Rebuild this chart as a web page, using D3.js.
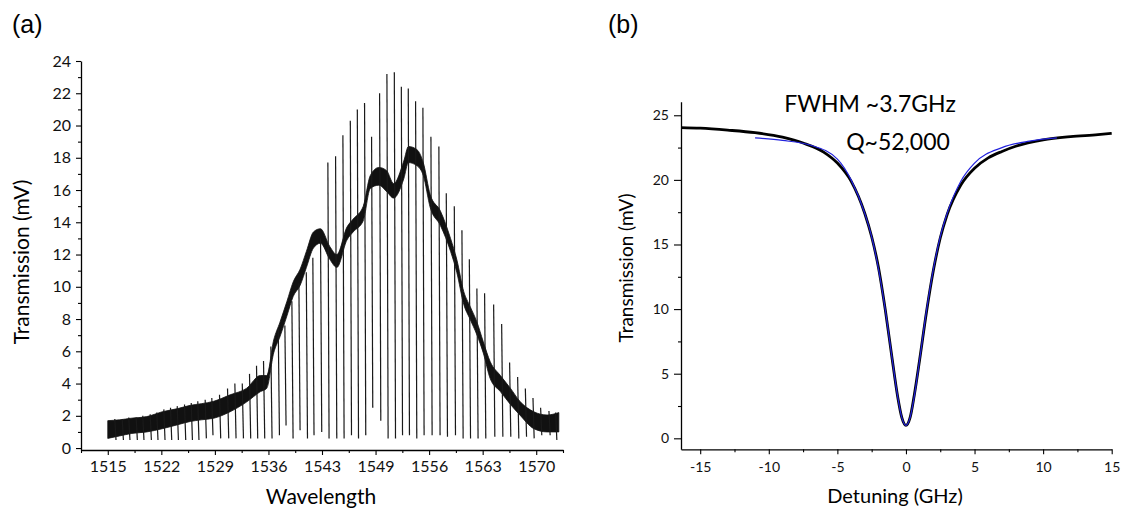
<!DOCTYPE html>
<html>
<head>
<meta charset="utf-8">
<script src="https://cdn.jsdelivr.net/npm/d3@7"></script>
<style>
  body { margin: 0; background: #fff; }
  svg { display: block; }
  .tick text { font-family: Lato, "Open Sans", sans-serif; fill: #111; }
</style>
</head>
<body>
<svg id="chart" width="1125" height="515"></svg>
<script>
// ---------- panel (a): transmission spectrum ----------
// noise band of the trace between resonances (wavelength, low, high)
const bandWl   = [1515.0, 1516.5, 1518.0, 1520.0, 1522.0, 1524.0, 1525.6, 1527.0, 1528.6, 1530.7, 1532.8, 1534.6, 1535.4, 1536.3, 1537.1, 1538.0, 1538.8, 1539.7, 1540.5, 1541.4, 1542.3, 1543.5, 1544.4, 1545.7, 1546.5, 1547.8, 1548.7, 1549.8, 1550.8, 1551.7, 1553.0, 1553.6, 1554.7, 1555.5, 1556.4, 1557.7, 1559.0, 1559.8, 1560.7, 1561.5, 1562.4, 1563.2, 1564.1, 1565.4, 1566.7, 1567.9, 1569.7, 1571.4, 1572.9];
const bandLow  = [0.6, 0.75, 0.9, 1.0, 1.2, 1.45, 1.65, 1.75, 1.85, 2.25, 2.85, 3.5, 3.7, 5.9, 6.9, 8.2, 9.4, 10.1, 11.2, 12.4, 12.7, 11.7, 11.2, 12.9, 13.4, 14.1, 16.1, 16.3, 15.9, 15.5, 16.7, 17.7, 17.5, 16.9, 14.9, 13.8, 12.2, 10.9, 8.9, 8.0, 7.0, 5.9, 4.3, 3.5, 2.7, 2.05, 1.2, 1.0, 1.0];
const bandHigh = [1.7, 1.75, 1.85, 1.95, 2.25, 2.45, 2.65, 2.75, 2.9, 3.3, 3.7, 4.5, 4.5, 6.7, 7.8, 9.1, 10.3, 11.1, 12.2, 13.4, 13.6, 12.5, 12.0, 13.7, 14.2, 15.0, 16.9, 17.4, 17.2, 16.4, 17.8, 18.7, 18.5, 17.7, 15.7, 14.7, 13.0, 11.7, 9.7, 8.8, 7.8, 6.6, 5.35, 4.5, 3.7, 2.9, 2.25, 2.05, 2.2];

// resonances: position, dip minimum, peak maximum (mV)
const resWl = [1515.98, 1516.93, 1517.77, 1518.72, 1519.57, 1520.52, 1521.37, 1522.27, 1523.13, 1523.99,
               1524.93, 1525.79, 1526.63, 1527.58, 1528.43, 1529.42, 1530.45, 1531.39, 1532.34, 1533.27,
               1534.17, 1535.07, 1536.01, 1536.96, 1537.81, 1538.71, 1539.61, 1540.56, 1541.40, 1542.39,
               1543.33, 1544.32, 1545.26, 1546.21, 1547.11, 1548.04, 1548.94, 1549.97, 1550.91, 1551.86,
               1552.76, 1553.65, 1554.59, 1555.53, 1556.56, 1557.58, 1558.53, 1559.56, 1560.54, 1561.49,
               1562.46, 1563.45, 1564.61, 1565.64, 1566.66, 1567.69, 1568.68, 1569.66, 1570.64, 1571.71, 1572.57];
const resDip = [0.5, 0.5, 0.5, 0.5, 0.5, 0.5, 0.5, 0.5, 0.5, 0.5,
                0.5, 0.5, 0.5, 0.6, 0.8, 0.6, 0.6, 0.6, 0.6, 0.6,
                0.6, 0.6, 0.6, 0.8, 1.4, 0.6, 1.1, 0.6, 0.8, 1.0,
                0.6, 0.6, 0.6, 0.8, 0.6, 0.8, 2.5, 1.7, 0.6, 0.6,
                0.8, 0.8, 0.6, 0.8, 0.8, 0.8, 0.7, 0.8, 0.6, 0.6,
                0.6, 0.6, 0.7, 0.7, 0.7, 0.6, 0.7, 0.6, 0.8, 0.8, 0.5];
const resPeak = [1.8, 1.8, 1.9, 1.9, 2.0, 2.1, 2.2, 2.4, 2.5, 2.6,
                 2.7, 2.8, 2.9, 3.0, 3.1, 3.3, 3.7, 4.0, 4.0, 4.6,
                 5.1, 5.4, 6.3, 7.4, 7.6, 9.1, 10.2, 10.9, 11.8, 13.0,
                 17.7, 18.1, 19.4, 20.3, 21.0, 21.4, 19.3, 22.0, 23.2, 23.3,
                 22.4, 22.3, 21.5, 21.1, 19.3, 18.7, 15.8, 15.0, 13.5, 11.7,
                 9.9, 9.6, 8.9, 7.7, 5.3, 4.4, 3.7, 3.1, 2.5, 2.3, 2.2];

const xTicksA      = [1515, 1521.875, 1528.75, 1535.625, 1542.5, 1549.375, 1556.25, 1563.125, 1570];
const xTickLabelsA = ["1515", "1522", "1529", "1536", "1543", "1549", "1556", "1563", "1570"];
const yTicksA      = [0, 2, 4, 6, 8, 10, 12, 14, 16, 18, 20, 22, 24];

// ---------- panel (b): single resonance ----------
const detData = [-16.4, -15, -13, -11, -9, -7.5, -6, -5, -4, -3, -2.5, -2, -1.5, -1, -0.6, -0.3, 0, 0.3, 0.6, 1, 1.5, 2, 2.5, 3, 4, 5, 6, 7, 8, 10, 12, 14, 15];
const trData  = [24.05, 24.0, 23.85, 23.65, 23.3, 22.85, 22.15, 21.3, 19.9, 17.4, 15.6, 13.2, 9.9, 6.1, 3.2, 1.6, 1.0, 1.6, 3.3, 6.1, 9.8, 13.0, 15.5, 17.3, 19.6, 20.9, 21.7, 22.2, 22.6, 23.1, 23.35, 23.5, 23.6];
const detFit  = [-11, -9, -7, -5, -4, -3, -2.5, -2, -1.5, -1, -0.6, -0.3, 0, 0.3, 0.6, 1, 1.5, 2, 2.5, 3, 4, 5, 7, 9, 11];
const trFit   = [23.25, 23.05, 22.7, 21.6, 20.0, 17.4, 15.6, 13.1, 9.9, 6.1, 3.2, 1.6, 1.0, 1.6, 3.2, 6.1, 9.9, 13.1, 15.6, 17.4, 19.9, 21.3, 22.5, 23.0, 23.25];

const xTicksB = [-15, -10, -5, 0, 5, 10, 15];
const yTicksB = [0, 5, 10, 15, 20, 25];

const svg = d3.select('#chart');
const labelFont = 'Lato, "Open Sans", sans-serif';

// ---------------- panel (a) ----------------
const xA = d3.scaleLinear().domain([1511.5625, 1573.4375]).range([81, 563]);
const yA = d3.scaleLinear().domain([-0.12, 24]).range([450, 61]);

const gA = svg.append('g');

const band = bandWl.map((w, i) => ({ w, lo: bandLow[i], hi: bandHigh[i] }));
gA.append('path')
  .datum(band)
  .attr('fill', '#111')
  .attr('stroke', '#111')
  .attr('stroke-width', 0.8)
  .attr('d', d3.area().x(d => xA(d.w)).y0(d => yA(d.lo)).y1(d => yA(d.hi)).curve(d3.curveMonotoneX));

const res = resWl.map((w, i) => ({ w, dip: resDip[i], peak: resPeak[i] }));
gA.selectAll('line.res')
  .data(res)
  .join('line')
  .attr('class', 'res')
  .attr('x1', d => xA(d.w) - 0.6)
  .attr('x2', d => xA(d.w) + 0.6)
  .attr('y1', d => yA(d.peak))
  .attr('y2', d => yA(d.dip))
  .attr('stroke', '#1a1a1a')
  .attr('stroke-width', 1.2);

// axes (a)
const axA = gA.append('g').attr('transform', `translate(0,${yA.range()[0]})`)
  .call(d3.axisBottom(xA).tickValues(xTicksA).tickFormat((d, i) => xTickLabelsA[i]).tickSize(5).tickSizeOuter(0).tickPadding(6));
gA.append('g').attr('transform', `translate(0,${yA.range()[0]})`)
  .call(d3.axisBottom(xA).tickValues(xTicksA.map(t => t + 3.4375).concat([xTicksA[0] - 3.4375])).tickFormat('').tickSize(3).tickSizeOuter(0))
  .select('.domain').remove();
const ayA = gA.append('g').attr('transform', `translate(${xA.range()[0]},0)`)
  .call(d3.axisLeft(yA).tickValues(yTicksA).tickSize(5).tickSizeOuter(0).tickPadding(5));
gA.append('g').attr('transform', `translate(${xA.range()[0]},0)`)
  .call(d3.axisLeft(yA).tickValues(yTicksA.slice(0, -1).map(t => t + 1)).tickFormat('').tickSize(3).tickSizeOuter(0))
  .select('.domain').remove();
[axA, ayA].forEach(a => a.selectAll('text').attr('font-size', 16));

// ---------------- panel (b) ----------------
const xB = d3.scaleLinear().domain([-16.4, 15]).range([681, 1111.7]);
const yB = d3.scaleLinear().domain([-0.85, 26.05]).range([449.3, 101.7]);
const gB = svg.append('g');

const lineB = d3.line().x(d => xB(d[0])).y(d => yB(d[1])).curve(d3.curveMonotoneX);
gB.append('path')
  .datum(detData.map((d, i) => [d, trData[i]]))
  .attr('fill', 'none').attr('stroke', '#000').attr('stroke-width', 2.8)
  .attr('d', lineB);
gB.append('path')
  .datum(detFit.map((d, i) => [d, trFit[i]]))
  .attr('fill', 'none').attr('stroke', '#2222dd').attr('stroke-width', 1.2)
  .attr('d', lineB);

const hyphen = d => String(d).replace('\u2212', '-');
const axB = gB.append('g').attr('transform', `translate(0,${yB.range()[0]})`)
  .call(d3.axisBottom(xB).tickValues(xTicksB).tickFormat(hyphen).tickSize(5).tickSizeOuter(0).tickPadding(8));
gB.append('g').attr('transform', `translate(0,${yB.range()[0]})`)
  .call(d3.axisBottom(xB).tickValues(xTicksB.slice(0, -1).map(t => t + 2.5)).tickFormat('').tickSize(3).tickSizeOuter(0))
  .select('.domain').remove();
const ayB = gB.append('g').attr('transform', `translate(${xB.range()[0]},0)`)
  .call(d3.axisLeft(yB).tickValues(yTicksB).tickSize(7).tickSizeOuter(0).tickPadding(5));
gB.append('g').attr('transform', `translate(${xB.range()[0]},0)`)
  .call(d3.axisLeft(yB).tickValues(yTicksB.slice(0, -1).map(t => t + 2.5)).tickFormat('').tickSize(3).tickSizeOuter(0))
  .select('.domain').remove();
[axB, ayB].forEach(a => a.selectAll('text').attr('font-size', 14));

svg.selectAll('.domain').attr('stroke-width', 1.3);
svg.selectAll('.tick line').attr('stroke-width', 1.1);

// ---------------- labels ----------------
svg.append('text').attr('x', 12).attr('y', 33).attr('font-family', 'Liberation Sans, Arial, sans-serif').attr('font-size', 25).text('(a)');
svg.append('text').attr('x', 608).attr('y', 33).attr('font-family', 'Liberation Sans, Arial, sans-serif').attr('font-size', 25).text('(b)');

svg.append('text').attr('x', 321).attr('y', 504).attr('text-anchor', 'middle')
  .attr('font-family', labelFont).attr('font-size', 21).text('Wavelength');
svg.append('text').attr('transform', 'translate(29,262) rotate(-90)').attr('text-anchor', 'middle')
  .attr('font-family', labelFont).attr('font-size', 21).text('Transmission (mV)');

svg.append('text').attr('x', 895).attr('y', 503).attr('text-anchor', 'middle')
  .attr('font-family', labelFont).attr('font-size', 20).text('Detuning (GHz)');
svg.append('text').attr('transform', 'translate(633,268) rotate(-90)').attr('text-anchor', 'middle')
  .attr('font-family', labelFont).attr('font-size', 19).text('Transmission (mV)');

svg.append('text').attr('x', 870).attr('y', 112).attr('text-anchor', 'middle')
  .attr('font-family', labelFont).attr('font-size', 23).text('FWHM ~3.7GHz');
svg.append('text').attr('x', 898).attr('y', 150).attr('text-anchor', 'middle')
  .attr('font-family', labelFont).attr('font-size', 23).text('Q~52,000');
</script>
</body>
</html>
